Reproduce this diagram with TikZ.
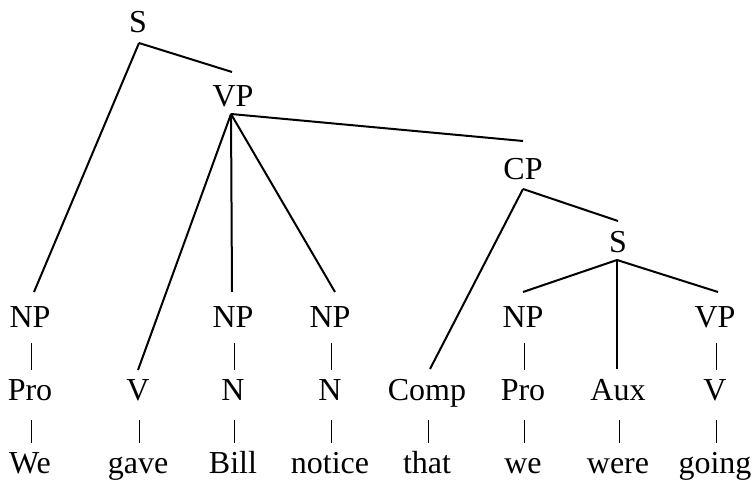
\documentclass[tikz,border=0pt]{standalone}
\usepackage{fontspec}
\setmainfont{Liberation Serif}
\usetikzlibrary{calc}
\begin{document}
\begin{tikzpicture}[x=0.5pt,y=-0.5pt,
  lbl/.style={anchor=base, inner sep=0pt, font=\fontsize{16}{19}\selectfont},
  br/.style={line width=1pt},
  pipe/.style={line width=0.5pt}]
\useasboundingbox (0,0) rectangle (753,485);
% nonterminals
\node[lbl] (S1) at (138,33) {S};
\node[lbl] (VP1) at (233,107) {VP};
\node[lbl] (CP) at (523,180) {CP};
\node[lbl] (S2) at (618,253) {S};
\node[lbl] (NP1) at (30,328) {NP};
\node[lbl] (NP2) at (233,328) {NP};
\node[lbl] (NP3) at (330,328) {NP};
\node[lbl] (NP4) at (523,328) {NP};
\node[lbl] (VP2) at (715,328) {VP};
\node[lbl] (Pro1) at (30,400) {Pro};
\node[lbl] (V1) at (138,400) {V};
\node[lbl] (N1) at (233,400) {N};
\node[lbl] (N2) at (330,400) {N};
\node[lbl] (Comp) at (427,400) {Comp};
\node[lbl] (Pro2) at (523,400) {Pro};
\node[lbl] (Aux) at (618,400) {Aux};
\node[lbl] (V2) at (715,400) {V};
% words
\node[lbl] (w1) at (30,473) {We};
\node[lbl] (w2) at (138,473) {gave};
\node[lbl] (w3) at (233,473) {Bill};
\node[lbl] (w4) at (330,473) {notice};
\node[lbl] (w5) at (427,473) {that};
\node[lbl] (w6) at (523,473) {we};
\node[lbl] (w7) at (618,473) {were};
\node[lbl] (w8) at (715,473) {going};
% branches
\draw[br] ($(S1.base)+(1,10)$) -- ($(NP1.base)+(4,-36)$);
\draw[br] ($(S1.base)+(1,10)$) -- ($(VP1.base)+(-1,-35)$);
\draw[br] ($(VP1.base)+(-2,7)$) -- ($(V1.base)+(0,-30)$);
\draw[br] ($(VP1.base)+(-2,7)$) -- ($(NP2.base)+(-1,-36)$);
\draw[br] ($(VP1.base)+(-2,7)$) -- ($(NP3.base)+(5,-36)$);
\draw[br] ($(VP1.base)+(-2,7)$) -- ($(CP.base)+(0,-39)$);
\draw[br] ($(CP.base)+(0,9)$) -- ($(Comp.base)+(3,-31)$);
\draw[br] ($(CP.base)+(0,9)$) -- ($(S2.base)+(0,-32)$);
\draw[br] ($(S2.base)+(-1,7)$) -- ($(NP4.base)+(0,-36)$);
\draw[br] ($(S2.base)+(-1,7)$) -- ($(Aux.base)+(-1,-31)$);
\draw[br] ($(S2.base)+(-1,7)$) -- ($(VP2.base)+(3,-36)$);
% unary bars
\foreach \a/\b in {NP1/Pro1, NP2/N1, NP3/N2, NP4/Pro2, VP2/V2}
  \draw[pipe] ($(\a.base)+(1,15)$) -- ($(\b.base |- \a.base)+(1,42)$);
\foreach \a/\b in {Pro1/w1, V1/w2, N1/w3, N2/w4, Comp/w5, Pro2/w6, Aux/w7, V2/w8}
  \draw[pipe] ($(\a.base)+(1,20)$) -- ($(\b.base |- \a.base)+(1,43)$);
\end{tikzpicture}
\end{document}
